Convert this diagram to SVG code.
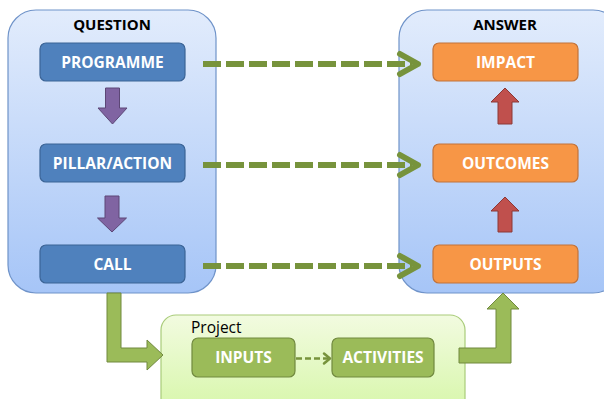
<svg xmlns="http://www.w3.org/2000/svg" width="604" height="399" viewBox="0 0 604 399">
<defs>
<linearGradient id="gBlue" x1="0" y1="0" x2="0" y2="1">
<stop offset="0" stop-color="#e2ecfc"/>
<stop offset="1" stop-color="#a6c5f7"/>
</linearGradient>
<linearGradient id="gGreen" x1="0" y1="0" x2="0" y2="1">
<stop offset="0" stop-color="#f2fbe0"/>
<stop offset="1" stop-color="#d6f6a8"/>
</linearGradient>
<style>
.cont{fill:url(#gBlue);stroke:#6f93c9;stroke-width:1.2}
.proj{fill:url(#gGreen);stroke:#a9cc7a;stroke-width:1.2}
.bbox{fill:#4f81bd;stroke:#3b6496;stroke-width:1.2}
.obox{fill:#f79646;stroke:#c2733a;stroke-width:1.2}
.gbox{fill:#9bbb59;stroke:#71893f;stroke-width:1.2}
.lbl{font-family:"Open Sans","Liberation Sans",sans-serif;font-weight:bold;font-size:15.5px;fill:#ffffff;text-anchor:middle}
.ttl{font-family:"Open Sans","Liberation Sans",sans-serif;font-weight:bold;font-size:15px;fill:#000000;text-anchor:middle}
.dash{fill:none;stroke:#77933c;stroke-width:6;stroke-dasharray:18 5}
.head{fill:none;stroke:#77933c;stroke-width:6;stroke-linejoin:round;stroke-linecap:round}
.purple{fill:#8064a2;stroke:#5c4776;stroke-width:1}
.red{fill:#c0504d;stroke:#8c3836;stroke-width:1}
.garrow{fill:#9bbb59;stroke:#71893f;stroke-width:1}
</style>
</defs>

<g id="question">
<rect class="cont" x="8" y="10" width="208" height="283" rx="28"/>
<text class="ttl" x="112" y="30">QUESTION</text>
</g>
<g id="answer">
<rect class="cont" x="399" y="10" width="222" height="283" rx="28"/>
<text class="ttl" x="505" y="30">ANSWER</text>
</g>
<g id="project">
<rect class="proj" x="161" y="315" width="304" height="100" rx="15"/>
<text x="191" y="333" font-family="'Open Sans','Liberation Sans',sans-serif" font-size="15.5" fill="#000">Project</text>
</g>

<g id="programme"><rect class="bbox" x="40" y="43" width="145" height="38" rx="6"/><text class="lbl" x="112.5" y="67.5">PROGRAMME</text></g>
<g id="pillar"><rect class="bbox" x="40" y="144" width="145" height="38" rx="6"/><text class="lbl" x="112.5" y="168.5">PILLAR/ACTION</text></g>
<g id="call"><rect class="bbox" x="40" y="245" width="145" height="38" rx="6"/><text class="lbl" x="112.5" y="269.5">CALL</text></g>

<g id="impact"><rect class="obox" x="433" y="43" width="145" height="38" rx="6"/><text class="lbl" x="505.5" y="67.5">IMPACT</text></g>
<g id="outcomes"><rect class="obox" x="433" y="144" width="145" height="38" rx="6"/><text class="lbl" x="505.5" y="168.5">OUTCOMES</text></g>
<g id="outputs"><rect class="obox" x="433" y="245" width="145" height="38" rx="6"/><text class="lbl" x="505.5" y="269.5">OUTPUTS</text></g>

<g id="inputs"><rect class="gbox" x="192" y="338" width="103" height="39" rx="6"/><text class="lbl" x="243.5" y="363">INPUTS</text></g>
<g id="activities"><rect class="gbox" x="332" y="338" width="102" height="39" rx="6"/><text class="lbl" x="383" y="363">ACTIVITIES</text></g>

<g id="connectors">
<line class="dash" x1="203" y1="64" x2="412" y2="64"/>
<polyline class="head" points="400,54 418,64 400,74"/>
<line class="dash" x1="203" y1="165" x2="412" y2="165"/>
<polyline class="head" points="400,155 418,165 400,175"/>
<line class="dash" x1="203" y1="266" x2="412" y2="266"/>
<polyline class="head" points="400,256 418,266 400,276"/>

<polygon class="purple" points="105.5,88 119.5,88 119.5,108 127,108 112.5,124 98,108 105.5,108"/>
<polygon class="purple" points="105,196 119,196 119,218 126.5,218 112,232 97.5,218 105,218"/>

<polygon class="red" points="505,88 519,102 512,102 512,124 498,124 498,102 491,102"/>
<polygon class="red" points="505,197 519,211 512,211 512,232 498,232 498,211 491,211"/>

<polygon class="garrow" points="107,293 121,293 121,348 147,348 147,340 163,355 147,370 147,362 107,362"/>
<polygon class="garrow" points="459,348 496,348 496,309 487,309 503,293 519,309 511,309 511,363 459,363"/>

<line x1="296" y1="358.5" x2="328" y2="358.5" stroke="#77933c" stroke-width="2.5" stroke-dasharray="6 3"/>
<polyline points="324,353.5 330,358.5 324,363.5" fill="none" stroke="#77933c" stroke-width="2.5" stroke-linejoin="round" stroke-linecap="round"/>
</g>
</svg>
